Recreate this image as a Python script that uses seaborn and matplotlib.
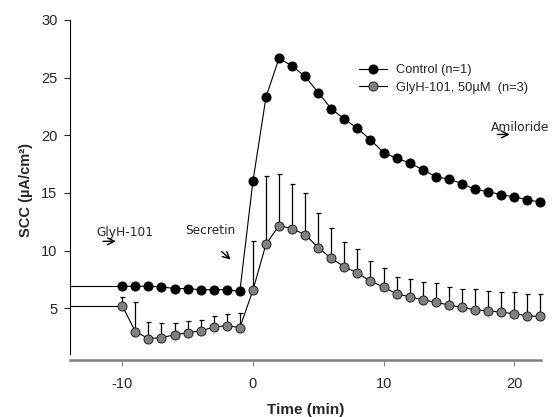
import matplotlib
matplotlib.use("Agg")
import matplotlib.pyplot as plt
import numpy as np
import pandas as pd
import seaborn as sns

# 时间点（分钟）
time_min = list(range(-10, 23))

# Control (n=1)
control_scc = [6.9, 6.9, 6.9, 6.85, 6.7, 6.7, 6.6, 6.6, 6.6, 6.45,
               16.0, 23.3, 26.7, 26.0, 25.1, 23.7, 22.3, 21.4, 20.6, 19.6,
               18.5, 18.0, 17.6, 17.0, 16.4, 16.2, 15.8, 15.3, 15.1, 14.85,
               14.65, 14.4, 14.2]

# GlyH-101, 50 µM (n=3)
glyh_scc = [5.2, 2.97, 2.36, 2.45, 2.68, 2.85, 3.03, 3.35, 3.49, 3.31,
            6.55, 10.55, 12.16, 11.9, 11.37, 10.25, 9.31, 8.6, 8.04, 7.35,
            6.83, 6.22, 5.99, 5.72, 5.5, 5.28, 5.06, 4.86, 4.77, 4.64,
            4.52, 4.33, 4.28]
glyh_upper = [5.95, 5.49, 3.81, 3.69, 3.69, 3.9, 3.96, 4.33, 4.5, 4.59,
              10.85, 16.45, 16.6, 15.8, 14.97, 13.26, 11.94, 10.74, 10.1, 9.05,
              8.47, 7.72, 7.49, 7.29, 7.15, 6.85, 6.7, 6.62, 6.53, 6.39,
              6.36, 6.22, 6.22]

# 记录开始前的基线段
baseline_time = [-14, -10]
control_baseline = [6.9, 6.9]
glyh_baseline = [5.2, 5.2]

y_ticks = [5, 10, 15, 20, 25, 30]
x_ticks = [-10, 0, 10, 20]

sns.set_theme(style="white")
plt.rcParams["font.family"] = ["Liberation Sans", "DejaVu Sans"]
plt.rcParams["axes.unicode_minus"] = False

df = pd.DataFrame({"time": time_min, "control": control_scc, "glyh": glyh_scc})

fig = plt.figure(figsize=(5.55, 4.17), dpi=100)
ax = fig.add_axes([70 / 555, 57 / 417, 471 / 555, 340 / 417])

ax.plot(baseline_time, control_baseline, color="black", lw=0.8, zorder=2)
ax.plot(baseline_time, glyh_baseline, color="black", lw=0.8, zorder=2)

err = np.array(glyh_upper) - np.array(glyh_scc)
ax.errorbar(time_min, glyh_scc, yerr=[np.zeros_like(err), err], fmt="none",
            ecolor="black", elinewidth=0.9, capsize=1.8, capthick=0.9, zorder=1,
            clip_on=False)

sns.lineplot(data=df, x="time", y="glyh", ax=ax, color="black", lw=0.8,
             marker="o", markersize=6.5, markerfacecolor="#808080",
             markeredgecolor="#202020", markeredgewidth=0.7,
             label="GlyH-101, 50\u00b5M  (n=3)", zorder=3, clip_on=False)
sns.lineplot(data=df, x="time", y="control", ax=ax, color="black", lw=0.8,
             marker="o", markersize=6.5, markerfacecolor="black",
             markeredgecolor="black", label="Control (n=1)", zorder=4, clip_on=False)

ax.set_xlim(-14, 22.05)
ax.set_ylim(0.5, 30)
ax.set_xticks(x_ticks)
ax.set_yticks(y_ticks)
ax.tick_params(axis="both", labelsize=10.5, length=4, width=0.8, direction="out",
               bottom=True, left=True)
ax.tick_params(axis="x", color="#808080", pad=8)
ax.tick_params(axis="y", pad=5)
for side in ["top", "right"]:
    ax.spines[side].set_visible(False)
ax.spines["left"].set_bounds(1, 30)
ax.spines["left"].set_color("black")
ax.spines["left"].set_linewidth(0.8)
ax.spines["bottom"].set_color("#808080")
ax.spines["bottom"].set_linewidth(1.8)

ax.set_xlabel("Time (min)", fontsize=11, fontweight="bold", labelpad=9)
ax.set_ylabel("SCC (\u00b5A/cm\u00b2)", fontsize=10.5, fontweight="bold", labelpad=6)

handles, labels = ax.get_legend_handles_labels()
ax.legend(handles[::-1], labels[::-1], loc="upper left",
          bbox_to_anchor=(359 / 555, 1 - 64 / 417), bbox_transform=fig.transFigure,
          frameon=False, fontsize=9.3, handlelength=2.2, handletextpad=0.7,
          labelspacing=0.45, borderaxespad=0, borderpad=0)

# 加药标注
note_font = ["DejaVu Sans"]
ax.text(-9.78, 11.55, "GlyH-101", fontsize=8.8, family=note_font, ha="center", va="center")
ax.annotate("", xy=(-10.28, 10.8), xytext=(-11.68, 10.8),
            arrowprops=dict(arrowstyle="->", lw=1.0, color="black"))
ax.text(-3.27, 11.75, "Secretin", fontsize=8.8, family=note_font, ha="center", va="center")
ax.annotate("", xy=(-1.55, 9.05), xytext=(-2.55, 10.07),
            arrowprops=dict(arrowstyle="->", lw=1.0, color="black"))
ax.text(18.24, 20.7, "Amiloride", fontsize=8.8, family=note_font, ha="left", va="center",
        clip_on=False)
ax.annotate("", xy=(19.87, 20.07), xytext=(18.49, 20.07),
            arrowprops=dict(arrowstyle="->", lw=1.0, color="black"))

fig.savefig("out.png", dpi=100)
